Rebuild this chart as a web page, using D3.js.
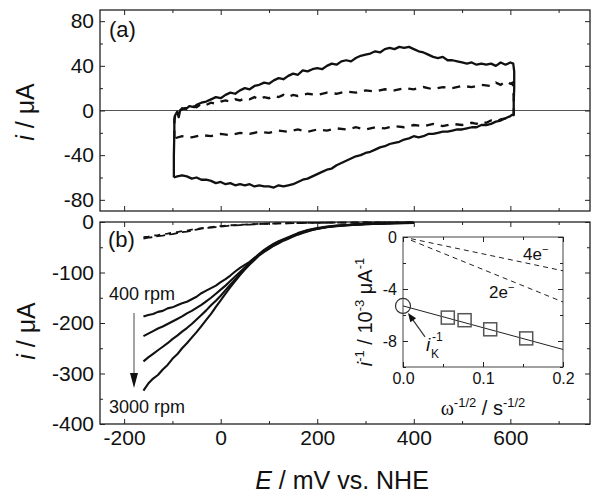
<!DOCTYPE html>
<html>
<head>
<meta charset="utf-8">
<title>CV and RDE</title>
<script src="https://cdn.jsdelivr.net/npm/d3@7"></script>
<style>
  body { margin: 0; background: #fff; }
  text { font-family: "Liberation Sans", Arial, sans-serif; fill: #111; }
</style>
</head>
<body>
<svg id="chart" width="600" height="501"></svg>
<script>
// ---- (a) cyclic voltammograms, [E mV, i uA]
var cvSolid = [
  [-97,-60],[-97,-40],[-96,-20],[-96,-8],[-94,-4],[-90,-1],[-87,-6],[-84,0],[-80,1],[-75,2],[-70,2],[-65,4],
  [-55,3],[-50,5],[-40,7],[-30,8],[-20,10],[-10,12],[0,11],[10,14],[20,16],[30,15],[40,18],[50,20],[60,19],
  [70,22],[80,23],[90,25],[100,24],[110,27],[120,29],[130,28],[140,31],[150,33],[160,32],[170,36],[180,35],
  [190,37],[200,38],[210,37],[220,40],[230,42],[240,41],[250,44],[260,45],[270,44],[280,47],[290,49],[300,50],
  [310,51],[320,53],[330,52],[340,55],[350,56],[360,55],[370,57],[380,56],[390,57],[400,55],[410,53],[420,52],
  [430,50],[440,48],[450,47],[460,48],[470,45],[480,45],[490,44],[500,43],[510,42],[520,43],[530,41],[540,42],
  [550,41],[560,42],[570,40],[580,43],[590,41],[600,43],[606,42],[608,35],[608,20],[607,8],[607,-3],
  [600,-5],[590,-7],[580,-9],[570,-10],[560,-12],[550,-13],[540,-13],[530,-15],[520,-15],[510,-16],[500,-17],
  [490,-17],[480,-18],[470,-19],[460,-19],[450,-20],[440,-21],[430,-21],[420,-23],[410,-24],[400,-23],[390,-25],
  [380,-26],[370,-28],[360,-29],[350,-30],[340,-32],[330,-33],[320,-35],[310,-37],[300,-38],[290,-40],[280,-41],
  [270,-43],[260,-45],[250,-47],[240,-49],[230,-52],[220,-53],[210,-55],[200,-57],[190,-59],[180,-61],[170,-62],
  [160,-64],[150,-66],[140,-67],[130,-68],[120,-67],[110,-69],[100,-68],[90,-68],[80,-67],[70,-68],[60,-66],
  [50,-67],[40,-66],[30,-67],[20,-65],[10,-66],[0,-64],[-10,-65],[-20,-63],[-30,-62],[-40,-62],[-50,-60],
  [-60,-61],[-70,-59],[-80,-58],[-90,-59],[-97,-60]
];
var cvDashed = [
  [-96,-25],[-96,-12],[-95,-5],[-90,-3],[-80,2],[-70,1],[-60,4],[-50,3],[-40,6],[-30,5],[-20,7],[-10,6],[0,8],
  [10,9],[20,8],[30,10],[40,9],[50,11],[60,10],[70,12],[80,10],[90,12],[100,11],[110,13],[120,12],[130,14],
  [140,12],[150,14],[160,13],[180,15],[200,14],[220,16],[240,15],[260,17],[280,16],[300,18],[320,17],[340,19],
  [360,18],[380,20],[400,19],[420,21],[440,19],[460,21],[480,20],[500,22],[520,21],[540,23],[560,22],[570,25],
  [580,23],[590,26],[600,24],[605,25],[607,12],[607,-4],
  [600,-5],[590,-7],[580,-8],[570,-10],[560,-9],[550,-11],[540,-10],[530,-12],[520,-11],[500,-13],[480,-12],
  [460,-14],[440,-12],[420,-14],[400,-13],[380,-15],[360,-14],[340,-16],[320,-15],[300,-17],[280,-15],
  [260,-17],[240,-16],[220,-18],[200,-17],[180,-19],[160,-17],[140,-19],[120,-18],[100,-20],[80,-19],[60,-21],
  [40,-20],[20,-22],[0,-21],[-20,-23],[-40,-22],[-60,-24],[-80,-23],[-96,-25]
];

// ---- (b) rotating disk voltammograms
var lsvE = [-160,-150,-140,-130,-120,-110,-100,-90,-80,-70,-60,-50,-40,-30,-20,-10,0,10,20,30,40,50,60,70,80,
            90,100,110,120,130,140,150,160,170,180,190,200,220,240,260,280,300,330,360,400];
var rpm = [400, 800, 1600, 3000];
var lsv400 = [-187,-184,-182,-178,-176,-171,-169,-165,-161,-158,-153,-148,-141,-136,-131,-126,-119,-113,-106,-98,-91,-85,-79,-71,-63,
              -55,-49,-43,-38,-34,-30,-26,-22,-19,-16,-14,-12,-9,-7,-6,-5,-4,-3,-2,-1.5];
var lsv800 = [-226,-221,-216,-211,-207,-202,-197,-192,-187,-181,-176,-170,-164,-157,-150,-142,-134,-126,-117,-108,-99,-90,-81,-72,-64,
              -57,-51,-45,-40,-35,-31,-27,-23,-20,-17,-15,-13,-10,-7.5,-6,-5,-4,-3,-2.2,-1.6];
var lsv1600 = [-276,-268,-261,-254,-247,-240,-232,-225,-217,-210,-202,-193,-184,-175,-165,-156,-146,-135,-124,-114,-103,-93,-83,-74,-65,
               -58,-52,-46,-41,-36,-32,-28,-24,-21,-18,-15.5,-13.5,-10,-8,-6.5,-5.2,-4.2,-3.2,-2.4,-1.7];
var lsv3000 = [-334,-320,-310,-303,-292,-283,-271,-262,-250,-240,-229,-218,-206,-194,-182,-168,-155,-142,-129,-117,-105,-94,-84,-75,-66,
               -59,-53,-47,-42,-37,-33,-29,-25,-22,-19,-16,-14,-10.5,-8.5,-7,-5.5,-4.5,-3.4,-2.6,-1.8];
var blankA = [-33,-31,-30,-28,-27,-25,-24,-22,-20,-19,-17,-15,-13,-12,-11,-10,-9,-8,-7,-6.5,-6,-5.5,-5,-4.5,-4,
              -3.7,-3.4,-3.1,-2.9,-2.7,-2.5,-2.3,-2.1,-2,-1.9,-1.8,-1.7,-1.5,-1.3,-1.2,-1.1,-1,-0.9,-0.8,-0.7];
var blankB = [-30,-29,-27,-26,-24,-23,-21,-20,-18,-17,-15,-14,-12,-11,-10,-9,-8,-7,-6.5,-6,-5.5,-5,-4.6,-4.2,-3.8,
              -3.5,-3.2,-3,-2.8,-2.6,-2.4,-2.2,-2,-1.9,-1.8,-1.7,-1.6,-1.4,-1.2,-1.1,-1,-0.9,-0.8,-0.7,-0.6];

// ---- inset: Koutecky-Levich
var klX = [0.154, 0.109, 0.077, 0.056];     // omega^-1/2 for 400, 800, 1600, 3000 rpm
var klY = [-7.8, -7.1, -6.4, -6.2];         // 1/i, 10^-3 uA^-1
var klFit = [[0, -5.3], [0.2, -8.65]];
var kl4e = [[0.01, -0.13], [0.2, -2.6]];
var kl2e = [[0.01, -0.25], [0.2, -5.0]];
var ikInv = [0, -5.3];

var svg = d3.select("#chart");
svg.append("rect").attr("width", 600).attr("height", 501).attr("fill", "#fff");

var x = d3.scaleLinear().domain([-250, 765]).range([100, 590]);
var yA = d3.scaleLinear().domain([-90, 90]).range([211, 10]);
var yB = d3.scaleLinear().domain([-400, 0]).range([424, 222]);
var xi = d3.scaleLinear().domain([0, 0.2]).range([403, 563]);
var yi = d3.scaleLinear().domain([-10, 0]).range([367, 237]);

function addAxis(orient, scale, at, major, minor, fmt, fs) {
  var mk = {left: d3.axisLeft, right: d3.axisRight, top: d3.axisTop, bottom: d3.axisBottom}[orient];
  var tr = (orient == "left" || orient == "right") ? "translate(" + at + ",0)" : "translate(0," + at + ")";
  var g = svg.append("g").attr("transform", tr);
  if (minor) g.call(mk(scale).tickValues(minor).tickSize(-3).tickFormat(""));
  g.append("g").call(mk(scale).tickValues(major).tickSize(-5).tickPadding(6).tickFormat(fmt || ""));
  g.selectAll(".domain").remove();
  g.selectAll("line").attr("stroke", "#222").attr("stroke-width", 1);
  g.selectAll("text").style("font-size", (fs || 21) + "px").attr("fill", "#111");
  return g;
}
var str = function(d) { return String(d); };

// zero line in (a)
svg.append("line").attr("x1", 100).attr("x2", 590).attr("y1", yA(0)).attr("y2", yA(0))
  .attr("stroke", "#555").attr("stroke-width", 1);

// frames
[[yA, 10, 211], [yB, 222, 424]].forEach(function(f) {
  svg.append("rect").attr("x", 100).attr("y", f[1]).attr("width", 490).attr("height", f[2] - f[1])
    .attr("fill", "none").attr("stroke", "#222").attr("stroke-width", 1.3);
});

var xMaj = [-200, 0, 200, 400, 600], xMin = [-100, 100, 300, 500, 700];
// (a) axes
addAxis("left", yA, 100, [80, 40, 0, -40, -80], [60, 20, -20, -60], str);
addAxis("right", yA, 590, [80, 40, 0, -40, -80], [60, 20, -20, -60]);
addAxis("top", x, 10, xMaj, xMin);
addAxis("bottom", x, 211, xMaj, xMin);
// (b) axes
addAxis("left", yB, 100, [0, -100, -200, -300, -400], [-50, -150, -250, -350], str);
addAxis("right", yB, 590, [0, -100, -200, -300, -400], [-50, -150, -250, -350]);
addAxis("top", x, 222, xMaj, xMin);
addAxis("bottom", x, 424, xMaj, xMin, str);

// (a) curves
var lineA = d3.line().x(function(d) { return x(d[0]); }).y(function(d) { return yA(d[1]); });
svg.append("path").attr("d", lineA(cvSolid)).attr("fill", "none").attr("stroke", "#111")
  .attr("stroke-width", 2.3).attr("stroke-linejoin", "round");
svg.append("path").attr("d", lineA(cvDashed)).attr("fill", "none").attr("stroke", "#111")
  .attr("stroke-width", 2.3).attr("stroke-dasharray", "8,7");

// (b) curves
var lineB = d3.line().x(function(d, i) { return x(lsvE[i]); }).y(function(d) { return yB(d); });
[blankA, blankB].forEach(function(s, k) {
  svg.append("path").attr("d", lineB(s)).attr("fill", "none").attr("stroke", "#111")
    .attr("stroke-width", 1.8).attr("stroke-dasharray", k ? "6,5" : "9,4");
});
[lsv400, lsv800, lsv1600, lsv3000].forEach(function(s) {
  svg.append("path").attr("d", lineB(s)).attr("fill", "none").attr("stroke", "#111")
    .attr("stroke-width", 2.1).attr("stroke-linejoin", "round");
});

// rpm labels and arrow
svg.append("text").attr("x", 109).attr("y", 300).style("font-size", "18px").text(rpm[0] + " rpm");
svg.append("text").attr("x", 109).attr("y", 413).style("font-size", "18px").text(rpm[3] + " rpm");
svg.append("line").attr("x1", 134).attr("x2", 134).attr("y1", 313).attr("y2", 376)
  .attr("stroke", "#666").attr("stroke-width", 1.2);
svg.append("path").attr("d", "M134,388 L130,373 L138,373 Z").attr("fill", "#111");

// panel labels
svg.append("text").attr("x", 109).attr("y", 37).style("font-size", "22px").text("(a)");
svg.append("text").attr("x", 108).attr("y", 247).style("font-size", "22px").text("(b)");

// axis titles
function ylab(cx, cy) {
  var t = svg.append("text").attr("transform", "translate(" + cx + "," + cy + ") rotate(-90)")
    .attr("text-anchor", "middle").style("font-size", "25px");
  t.append("tspan").style("font-style", "italic").text("i");
  t.append("tspan").text(" / \u03bcA");
}
ylab(34, 112);
ylab(35, 331);
var xt = svg.append("text").attr("x", 342).attr("y", 489).attr("text-anchor", "middle").style("font-size", "25px");
xt.append("tspan").style("font-style", "italic").text("E");
xt.append("tspan").text(" / mV vs. NHE");

// ---- inset
svg.append("rect").attr("x", 403).attr("y", 237).attr("width", 160).attr("height", 130)
  .attr("fill", "#fff").attr("stroke", "#444").attr("stroke-width", 1);
var ixMaj = [0, 0.1, 0.2], ixMin = [0.05, 0.15];
var iyMaj = [0, -4, -8], iyMin = [-2, -6, -10];
addAxis("left", yi, 403, iyMaj, iyMin, str, 16);
addAxis("right", yi, 563, iyMaj, iyMin);
addAxis("top", xi, 237, ixMaj, ixMin);
addAxis("bottom", xi, 367, ixMaj, ixMin, d3.format(".1f"), 16);

var lineI = d3.line().x(function(d) { return xi(d[0]); }).y(function(d) { return yi(d[1]); });
[kl4e, kl2e].forEach(function(s) {
  svg.append("path").attr("d", lineI(s)).attr("fill", "none").attr("stroke", "#222")
    .attr("stroke-width", 1).attr("stroke-dasharray", "5,4");
});
svg.append("path").attr("d", lineI(klFit)).attr("fill", "none").attr("stroke", "#222").attr("stroke-width", 1);
svg.selectAll(".kl").data(klX).enter().append("rect")
  .attr("x", function(d) { return xi(d) - 6.5; })
  .attr("y", function(d, i) { return yi(klY[i]) - 6.5; })
  .attr("width", 13).attr("height", 13)
  .attr("fill", "none").attr("stroke", "#555").attr("stroke-width", 1.5);
svg.append("circle").attr("cx", xi(ikInv[0])).attr("cy", yi(ikInv[1])).attr("r", 7.5)
  .attr("fill", "none").attr("stroke", "#333").attr("stroke-width", 1.2);

// arrow to intercept
var cx0 = xi(ikInv[0]), cy0 = yi(ikInv[1]);
var ax1 = cx0 + 22, ay1 = cy0 + 31, ax2 = cx0 + 5, ay2 = cy0 + 7;
var ang = Math.atan2(ay2 - ay1, ax2 - ax1);
svg.append("line").attr("x1", ax1).attr("y1", ay1).attr("x2", ax2 - 6 * Math.cos(ang)).attr("y2", ay2 - 6 * Math.sin(ang))
  .attr("stroke", "#333").attr("stroke-width", 1.2);
svg.append("path").attr("fill", "#111").attr("d",
  "M" + ax2 + "," + ay2 +
  " L" + (ax2 - 9 * Math.cos(ang) + 3.5 * Math.sin(ang)) + "," + (ay2 - 9 * Math.sin(ang) - 3.5 * Math.cos(ang)) +
  " L" + (ax2 - 9 * Math.cos(ang) - 3.5 * Math.sin(ang)) + "," + (ay2 - 9 * Math.sin(ang) + 3.5 * Math.cos(ang)) + " Z");

svg.append("text").attr("x", 426).attr("y", 351).style("font-size", "19px").style("font-style", "italic").text("i");
svg.append("text").attr("x", 432).attr("y", 341).style("font-size", "12px").text("-1");
svg.append("text").attr("x", 431).attr("y", 358).style("font-size", "12px").text("K");

// rich text with superscripts
function rich(t, parts, fs) {
  var shift = 0;
  parts.forEach(function(p) {
    var s = t.append("tspan").text(p.t);
    var want = p.sup ? -0.42 * fs : 0;
    if (want != shift) { s.attr("dy", want - shift); shift = want; }
    s.style("font-size", (p.sup ? Math.round(fs * 0.65) : fs) + "px");
    if (p.it) s.style("font-style", "italic");
    if (p.serif) s.style("font-family", "'Liberation Serif', 'Times New Roman', serif");
  });
}
rich(svg.append("text").attr("x", 523).attr("y", 260), [{t: "4e"}, {t: "\u2212", sup: true}], 17);
rich(svg.append("text").attr("x", 489).attr("y", 298), [{t: "2e"}, {t: "\u2212", sup: true}], 17);
rich(svg.append("text").attr("x", 483).attr("y", 415).attr("text-anchor", "middle"),
  [{t: "\u03c9", serif: true}, {t: "-1/2", sup: true}, {t: " / s"}, {t: "-1/2", sup: true}], 20);
rich(svg.append("text").attr("transform", "translate(372,312) rotate(-90)").attr("text-anchor", "middle"),
  [{t: "i", it: true}, {t: "-1", sup: true}, {t: " / 10"}, {t: "-3", sup: true}, {t: " \u03bcA"}, {t: "-1", sup: true}], 20);
</script>
</body>
</html>
